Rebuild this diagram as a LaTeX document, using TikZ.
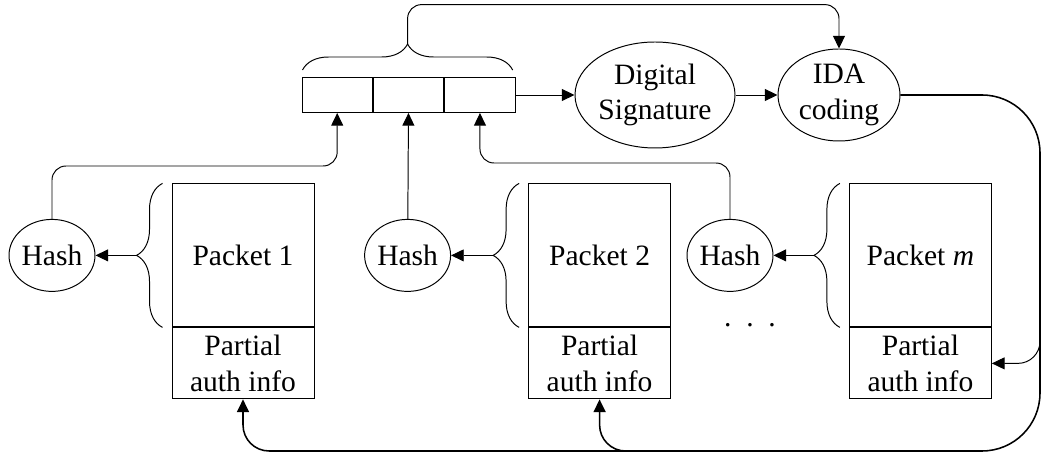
\documentclass[tikz,border=0pt]{standalone}
\usepackage{fontspec}
\setmainfont{Liberation Serif}
\usetikzlibrary{arrows.meta, shapes.geometric, positioning, calc, decorations.pathreplacing}

\begin{document}
\begin{tikzpicture}[scale=1,
    font=\fontsize{21}{25}\selectfont,
    line width=0.7pt,
    arr/.style={-{Triangle[length=9pt,width=8.5pt]}},
    cell/.style={draw, minimum width=1.76cm, minimum height=0.875cm, inner sep=0pt},
    oval/.style={draw, ellipse, inner sep=0pt, align=center},
    hashnode/.style={oval, minimum width=2.15cm, minimum height=1.8cm},
    packet/.style={draw, minimum width=3.55cm, minimum height=3.575cm, inner sep=0pt},
    partial/.style={draw, minimum width=3.55cm, minimum height=1.775cm, inner sep=0pt, align=center},
    grp/.style={decorate, decoration={brace, amplitude=0.65cm}},
    loopline/.style={line width=1.1pt}
]
        \useasboundingbox (0,0) rectangle (26.025,11.375);

        % signature block made of three hash slots
        \node[cell] (c1) at (8.43,9.0) {};
        \node[cell, right=0pt of c1] (c2) {};
        \node[cell, right=0pt of c2] (c3) {};

        \node[oval, minimum width=3.6cm, minimum height=2.65cm] (ds) at (16.375,9.0) {Digital\\Signature};
        \node[oval, minimum width=3.05cm, minimum height=2.3cm] (ida) at (20.975,9.0) {IDA\\coding};

        \draw[arr] (c3) -- (ds);
        \draw[arr] (ds) -- (ida);

        % packets with their partial auth info
        \node[packet] (p1) at (6.075,4.99) {Packet 1};
        \node[partial, below=0pt of p1] (a1) {Partial\\auth info};
        \node[packet] (p2) at (14.99,4.99) {Packet 2};
        \node[partial, below=0pt of p2] (a2) {Partial\\auth info};
        \node[packet] (pm) at (23.01,4.99) {Packet \textit{m}};
        \node[partial, below=0pt of pm] (am) {Partial\\auth info};

        \node[hashnode] (h1) at (1.3,4.99) {Hash};
        \node[hashnode] (h2) at (10.19,4.99) {Hash};
        \node[hashnode] (h3) at (18.25,4.99) {Hash};

        \node[inner sep=0pt] (dots) at (18.75,3.25) {.\hspace{0.37cm}.\hspace{0.37cm}.};

        % braces in front of each packet
        \draw[grp] ($(p1.south west)+(-0.225,0)$) -- ($(p1.north west)+(-0.225,0)$);
        \draw[grp] ($(p2.south west)+(-0.225,0)$) -- ($(p2.north west)+(-0.225,0)$);
        \draw[grp] ($(pm.south west)+(-0.225,0)$) -- ($(pm.north west)+(-0.225,0)$);
        \coordinate (t1) at ($(p1.west)+(-0.875,0)$);
        \coordinate (t2) at ($(p2.west)+(-0.875,0)$);
        \coordinate (tm) at ($(pm.west)+(-0.875,0)$);
        \draw[arr] (t1) -- (h1);
        \draw[arr] (t2) -- (h2);
        \draw[arr] (tm) -- (h3);

        % hashes into the slots
        \draw[arr, rounded corners=0.35cm] (h1) -- ++(0,2.235) -| (c1);
        \draw[arr] (h2) -- (c2);
        \draw[arr, rounded corners=0.35cm] (h3) -- ++(0,2.31) -| (c3);

        % brace over the slots feeds the IDA coder
        \draw[grp] ($(c1.north west)+(0.025,0.175)$) -- ($(c3.north east)+(-0.075,0.175)$);
        \coordinate (top) at ($(c1.north west)!0.5!(c3.north east)+(-0.025,0.825)$);
        \draw[arr, rounded corners=0.35cm] (top) -- ++(0,0.985) -| (ida);

        % coded pieces go back to every packet
        \coordinate (lr) at (26.0,0.1);
        \coordinate (bm) at (16.0,0.1);
        \coordinate (rb) at (26.0,3.0);
        \draw[loopline, rounded corners=1.45cm] (ida) -| (lr) -- (bm);
        \draw[loopline, arr, rounded corners=0.65cm] (bm) -| (a1);
        \draw[loopline, arr, rounded corners=0.65cm] (bm) -| (a2);
        \draw[arr, rounded corners=0.55cm] (rb) |- (am);

    \end{tikzpicture}
\end{document}
